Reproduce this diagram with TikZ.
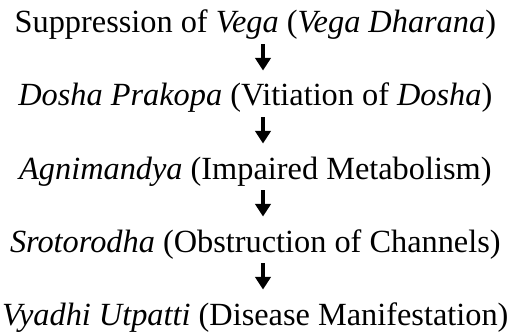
\documentclass[tikz,border=0pt]{standalone}
\usepackage{fontspec}
\setmainfont{Liberation Serif}
\usetikzlibrary{arrows.meta, positioning, calc}

\begin{document}
\begin{tikzpicture}[>=Stealth, line width=0.8pt,
      stage/.style={anchor=base, inner sep=0pt, text height=0.6cm, text depth=0.33cm,
                    font=\fontsize{27.6}{32}\selectfont},
      flow/.style={-{Triangle[length=0.38cm, width=0.46cm]}, line width=0.1cm,
                   shorten >=0.45cm}]
    \useasboundingbox (0,0) rectangle (15.48,-10.08);
    \coordinate (axis) at (7.89,0);
    \node[stage] (veg) at (7.66,-0.99) {Suppression of \textit{Vega} (\textit{Vega Dharana})};
    \node[stage] (dos) at (7.66,-3.18) {\textit{Dosha Prakopa} (Vitiation of \textit{Dosha})};
    \node[stage] (agn) at (7.66,-5.37) {\textit{Agnimandya} (Impaired Metabolism)};
    \node[stage] (sro) at (7.66,-7.56) {\textit{Srotorodha} (Obstruction of Channels)};
    \node[stage] (vya) at (7.66,-9.75) {\textit{Vyadhi Utpatti} (Disease Manifestation)};
    \draw[flow] (veg.south -| axis)--(dos.north -| axis);
    \draw[flow] (dos.south -| axis)--(agn.north -| axis);
    \draw[flow] (agn.south -| axis)--(sro.north -| axis);
    \draw[flow] (sro.south -| axis)--(vya.north -| axis);
  \end{tikzpicture}
\end{document}
